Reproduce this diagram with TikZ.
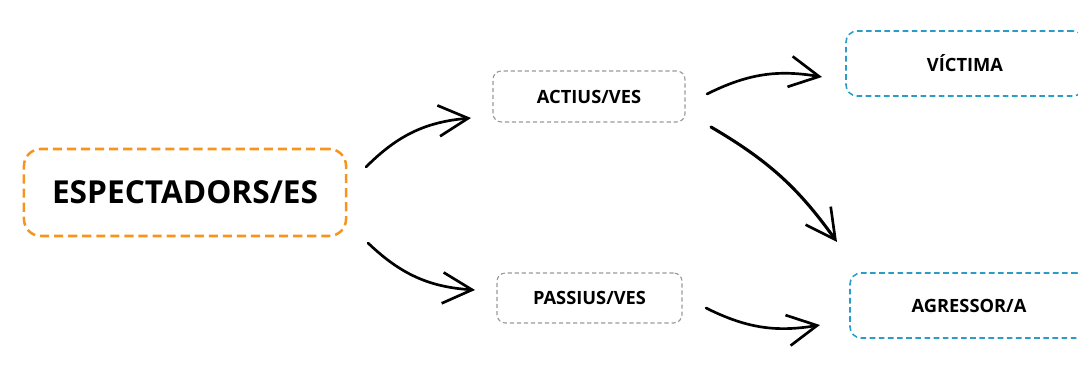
\documentclass[tikz,border=0pt]{standalone}
\usepackage{fontspec}
\setmainfont{Open Sans}
\usepackage{xcolor}
\usepackage{tikz}
\usetikzlibrary{calc}
\usetikzlibrary{arrows.meta}
\usetikzlibrary{positioning}

\definecolor{espOrange}{HTML}{F7941D}
\definecolor{rolBlue}{HTML}{2B9CC8}
\definecolor{tipGray}{HTML}{9A9A9A}

\tikzset{
  mainbox/.style={rectangle, rounded corners=12pt, dashed, draw=espOrange, line width=1.8pt,
    dash pattern=on 6.5pt off 3.5pt, inner sep=0pt, font=\fontsize{22.5}{27}\selectfont\bfseries},
  tipbox/.style={rectangle, rounded corners=6pt, draw=tipGray, line width=0.8pt,
    dash pattern=on 3pt off 2pt, inner sep=0pt, font=\fontsize{13}{16}\selectfont\bfseries},
  rolbox/.style={rectangle, rounded corners=8pt, draw=rolBlue, line width=1.1pt,
    dash pattern=on 4pt off 2.5pt, inner sep=0pt, font=\fontsize{13}{16}\selectfont\bfseries},
  sketch/.style={line width=1.9pt, line cap=round,
    -{Straight Barb[length=21pt,width=22pt,line width=1.9pt]}}
}

\begin{document}
\begin{tikzpicture}[x=0.025cm, y=0.025cm]
\useasboundingbox (0,0) rectangle (1078,388);
\node [mainbox, minimum width=8.05cm, minimum height=2.175cm] (esp) at (185, 195.5) {ESPECTADORS/ES};
\node [tipbox, minimum width=4.8cm, minimum height=1.275cm] (act) at (589, 291.5) {ACTIUS/VES};
\node [tipbox, minimum width=4.625cm, minimum height=1.25cm] (pas) at (589.5, 90) {PASSIUS/VES};
\node [rolbox, minimum width=5.95cm, minimum height=1.625cm] (vic) at (965, 324.5) {VÍCTIMA};
\node [rolbox, minimum width=5.95cm, minimum height=1.625cm] (agr) at (969, 82.5) {AGRESSOR/A};
% free ends of the sketched arrows
\coordinate (espUp) at (366, 221);
\coordinate (actIn) at (471, 270);
\coordinate (espDown) at (368, 145);
\coordinate (pasIn) at (475, 98);
\coordinate (actOutA) at (707, 294);
\coordinate (vicIn) at (822, 311);
\coordinate (actOutB) at (711, 261);
\coordinate (agrInA) at (837, 146);
\coordinate (pasOut) at (706, 80);
\coordinate (agrInB) at (820, 63);
\draw [sketch] (espUp) to [bend left=20] (actIn);
\draw [sketch] (espDown) to [bend right=20] (pasIn);
\draw [sketch] (actOutA) to [bend left=18] (vicIn);
\draw [sketch, line width=2.2pt] (actOutB) to [bend left=12] (agrInA);
\draw [sketch] (pasOut) to [bend right=18] (agrInB);
\end{tikzpicture}
\end{document}
